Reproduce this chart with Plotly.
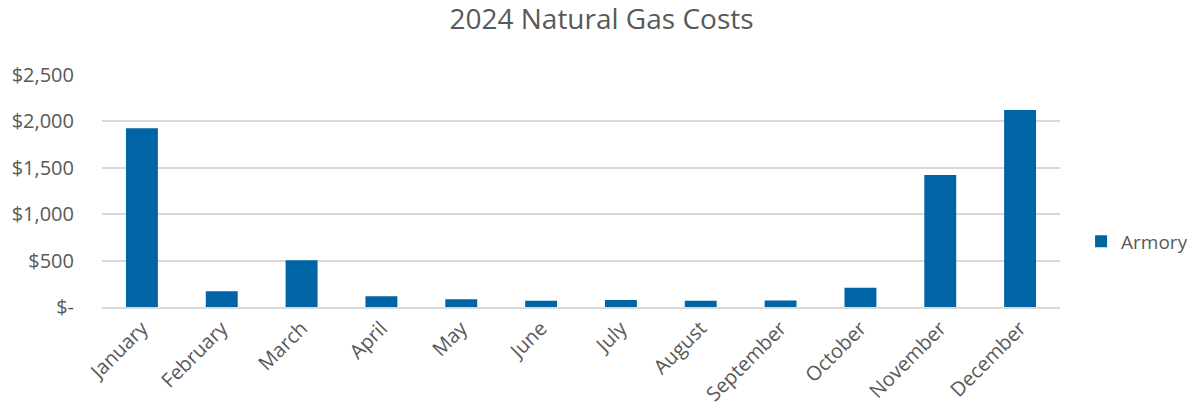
import plotly.graph_objects as go

months = ["January", "February", "March", "April", "May", "June", "July",
          "August", "September", "October", "November", "December"]
armory = [1925, 170, 505, 116, 83, 68, 75, 68, 70, 208, 1423, 2122]
tick_vals = [0, 500, 1000, 1500, 2000, 2500]
tick_text = ["$-", "$500", "$1,000", "$1,500", "$2,000", "$2,500"]

TEXT = "#595959"
FONT = "Open Sans"

W, H = 1187, 407  # page body has an 8px margin

fig = go.Figure()
fig.add_trace(go.Bar(x=months, y=armory, name="Armory",
                     marker=dict(color="#0064A5", line=dict(width=0))))

fig.update_layout(
    width=W, height=H,
    margin=dict(l=94, r=135, t=67, b=108, autoexpand=False),
    paper_bgcolor="white", plot_bgcolor="white",
    font=dict(family=FONT, color=TEXT, size=20),
    title=dict(text="2024 Natural Gas Costs", x=0.5, xanchor="center",
               y=1, yanchor="top", pad=dict(t=1),
               font=dict(size=28, color=TEXT, family=FONT)),
    bargap=0.6,
    showlegend=True,
    legend=dict(x=1.022, y=0.283, xanchor="left", yanchor="middle",
                itemwidth=30,
                font=dict(size=19, color=TEXT), bgcolor="rgba(0,0,0,0)"),
    xaxis=dict(tickangle=-45, showgrid=False, showline=True,
               linecolor="#d9d9d9", linewidth=1.5, ticks="",
               automargin=False,
               tickfont=dict(size=20, color=TEXT)),
    yaxis=dict(range=[0, 2500], tickvals=tick_vals, ticktext=tick_text,
               showgrid=True, gridcolor="#d9d9d9", gridwidth=1.5,
               zeroline=False, showline=False, ticks="",
               ticklabelstandoff=27, automargin=False,
               tickfont=dict(size=20, color=TEXT)),
)

fig.write_html("out.html")
